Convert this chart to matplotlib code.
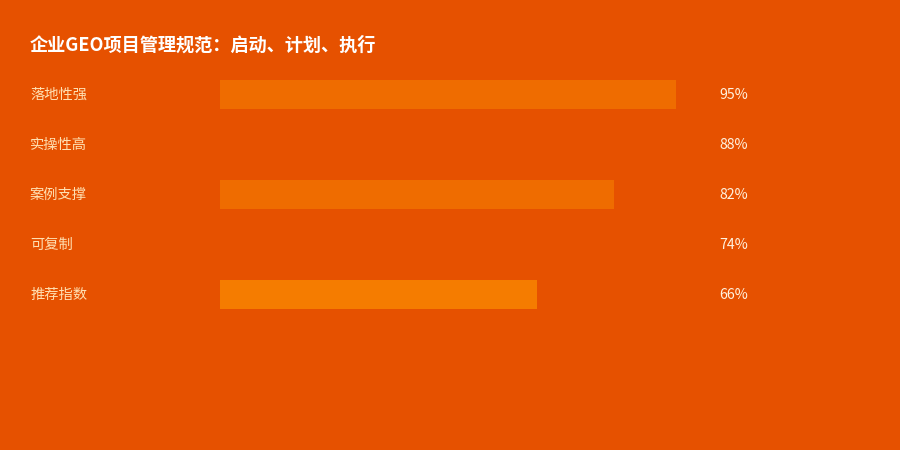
import matplotlib.pyplot as plt
import matplotlib.transforms as mtransforms

plt.rcParams['font.family'] = ['Noto Sans CJK SC', 'DejaVu Sans']

# data
categories = ['落地性强', '实操性高', '案例支撑', '可复制', '推荐指数']
values = [95, 88, 82, 74, 66]
bar_colors = ['#EF6C00', '#E65100', '#EF6C00', '#E65100', '#F57C00']
title = '企业GEO项目管理规范：启动、计划、执行'

bg = '#E65100'
W, H = 900, 450

fig = plt.figure(figsize=(9, 4.5), dpi=100, facecolor=bg)
# plot area: x 220..700 px, y 69..319 px
ax = fig.add_axes([220 / W, 1 - 319 / H, 480 / W, 250 / H])
ax.set_facecolor(bg)

ypos = list(range(len(categories)))
ax.barh(ypos, values, height=0.58, color=bar_colors, linewidth=0)
ax.set_xlim(0, 100)
ax.set_ylim(len(categories) - 0.5, -0.5)
ax.axis('off')

trans = mtransforms.blended_transform_factory(fig.transFigure, ax.transData)
for y, cat, v in zip(ypos, categories, values):
    ax.text(30 / W, y + 0.02, cat, transform=trans, ha='left', va='center',
            fontsize=10.3, color='#FFE0B2')
    ax.text(719 / W, y + 0.02, f'{v}%', transform=trans, ha='left', va='center',
            fontsize=10.2, color='#FFF3E0')

fig.text(30 / W, 1 - 45 / H, title, ha='left', va='center',
         fontsize=13.1, fontweight='bold', color='white')

fig.savefig('out.png', dpi=100, facecolor=bg)
